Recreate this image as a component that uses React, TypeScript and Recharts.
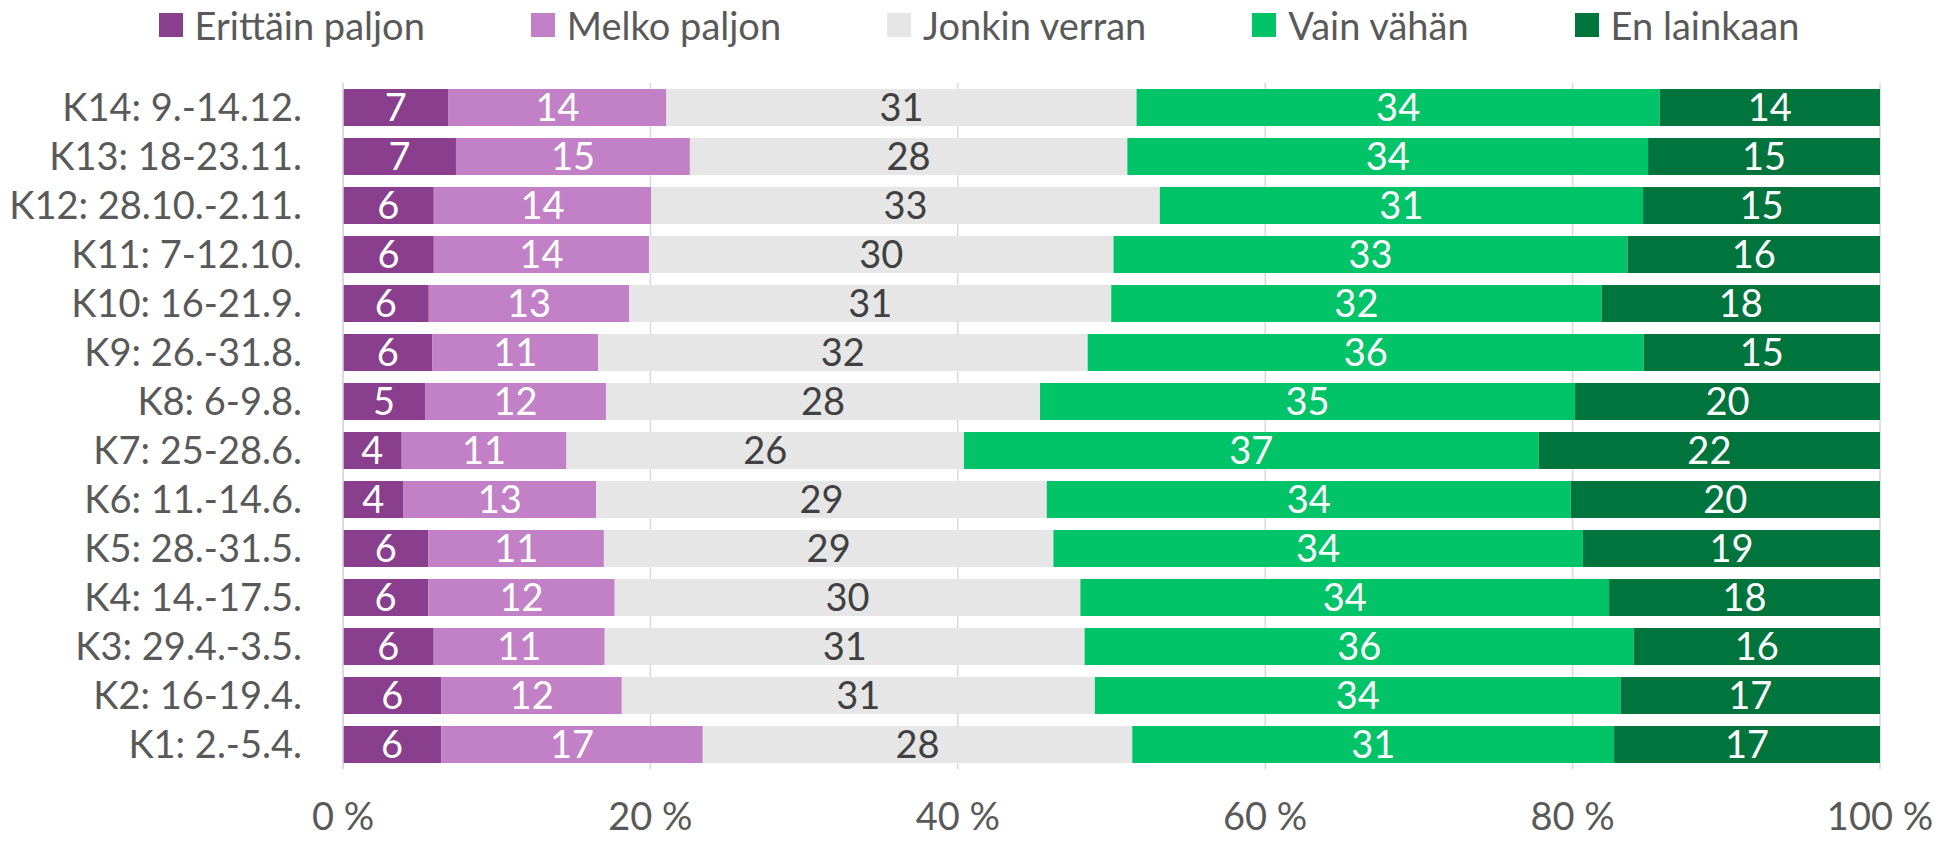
import React from 'react'
import {
    BarChart,
    Bar,
    XAxis,
    YAxis,
    CartesianGrid,
    LabelList,
} from 'recharts'

// survey rounds, bottom to top
const categories = [
    'K1: 2.-5.4.',
    'K2: 16-19.4.',
    'K3: 29.4.-3.5.',
    'K4: 14.-17.5.',
    'K5: 28.-31.5.',
    'K6: 11.-14.6.',
    'K7: 25-28.6.',
    'K8: 6-9.8.',
    'K9: 26.-31.8.',
    'K10: 16-21.9.',
    'K11: 7-12.10.',
    'K12: 28.10.-2.11.',
    'K13: 18-23.11.',
    'K14: 9.-14.12.',
]

const erittain = [6.39, 6.4, 5.9, 5.55, 5.55, 3.94, 3.82, 5.34, 5.82, 5.58, 5.9, 5.9, 7.35, 6.87]
const melko = [17.02, 11.72, 11.13, 12.13, 11.4, 12.53, 10.72, 11.77, 10.77, 13.05, 13.98, 14.14, 15.22, 14.17]
const jonkin = [27.94, 30.74, 31.22, 30.3, 29.2, 29.32, 25.86, 28.24, 31.86, 31.35, 30.18, 33.04, 28.46, 30.59]
const vain = [31.35, 34.17, 35.73, 34.4, 34.4, 34.09, 37.4, 34.81, 36.18, 31.91, 33.4, 31.4, 33.88, 34.04]
const en = [17.3, 16.86, 16.02, 17.63, 19.3, 20.12, 22.2, 19.84, 15.37, 18.11, 16.4, 15.4, 15.09, 14.33]

const xTicks = [0, 0.2, 0.4, 0.6, 0.8, 1]

const series = [
    { key: 'erittain', name: 'Erittäin paljon', color: '#8A3E8E', label: '#ffffff' },
    { key: 'melko', name: 'Melko paljon', color: '#C281C6', label: '#ffffff' },
    { key: 'jonkin', name: 'Jonkin verran', color: '#E6E6E6', label: '#404040' },
    { key: 'vain', name: 'Vain vähän', color: '#00C467', label: '#ffffff' },
    { key: 'en', name: 'En lainkaan', color: '#00743D', label: '#ffffff' },
]

const data = categories.map((name, i) => ({
    name,
    erittain: erittain[i],
    melko: melko[i],
    jonkin: jonkin[i],
    vain: vain[i],
    en: en[i],
}))

const FONT = 'Lato, "Liberation Sans", sans-serif'
const FONT_SIZE = 38

const Legend = () => (
    <div
        style={{
            position: 'absolute',
            top: 6,
            left: 11,
            width: 1936,
            height: 38,
            display: 'flex',
            justifyContent: 'center',
            alignItems: 'center',
            fontFamily: FONT,
            fontSize: FONT_SIZE,
            color: '#595959',
        }}
    >
        {series.map((s, i) => (
            <div
                key={s.key}
                style={{
                    display: 'flex',
                    alignItems: 'center',
                    marginRight: i < series.length - 1 ? 106 : 0,
                }}
            >
                <span
                    style={{
                        display: 'inline-block',
                        width: 24,
                        height: 24,
                        background: s.color,
                        marginRight: 12,
                    }}
                />
                <span style={{ lineHeight: '38px' }}>{s.name}</span>
            </div>
        ))}
    </div>
)

const App = () => {
    return (
        <div style={{ position: 'relative', width: 1936, height: 842 }}>
            <style>{'body { margin: 0; }'}</style>
            <Legend />
            <BarChart
                width={1936}
                height={842}
                data={data}
                layout="vertical"
                stackOffset="expand"
                margin={{ top: 83, right: 56, left: 0, bottom: 0 }}
            >
                <CartesianGrid horizontal={false} stroke="#D9D9D9" strokeWidth={1.5} />
                <XAxis
                    type="number"
                    domain={[0, 1]}
                    ticks={xTicks}
                    tickFormatter={(v) => `${Math.round(v * 100)} %`}
                    axisLine={false}
                    tickLine={false}
                    tickSize={0}
                    tickMargin={34}
                    height={73}
                    tick={{ fill: '#595959', fontSize: FONT_SIZE, fontFamily: FONT }}
                />
                <YAxis
                    type="category"
                    dataKey="name"
                    reversed
                    width={343}
                    axisLine={{ stroke: '#D9D9D9', strokeWidth: 1.5 }}
                    tickLine={false}
                    tickSize={0}
                    tickMargin={41}
                    interval={0}
                    tick={{ fill: '#595959', fontSize: FONT_SIZE, fontFamily: FONT }}
                />
                {series.map((s) => (
                    <Bar
                        key={s.key}
                        dataKey={s.key}
                        name={s.name}
                        stackId="a"
                        fill={s.color}
                        barSize={37}
                        isAnimationActive={false}
                    >
                        <LabelList
                            dataKey={s.key}
                            position="center"
                            formatter={(v: any) => Math.round(Number(v))}
                            fill={s.label}
                            fontSize={FONT_SIZE}
                            fontFamily={FONT}
                        />
                    </Bar>
                ))}
            </BarChart>
        </div>
    )
}

export default App
